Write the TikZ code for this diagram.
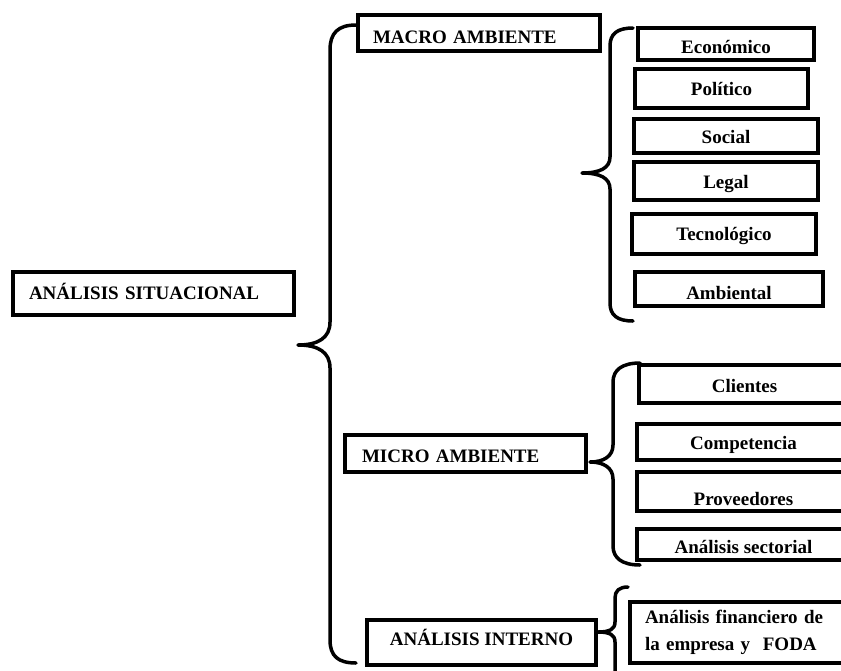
\documentclass[tikz,border=0pt]{standalone}
\usepackage{fontspec}
\setmainfont{Liberation Serif}
\begin{document}
\begin{tikzpicture}[x=1pt,y=-1pt,
  box/.style={draw, line width=4pt, outer sep=0pt, inner ysep=0pt, inner xsep=0pt,
    anchor=north west, font=\bfseries\fontsize{19}{27}\selectfont},
  brace/.style={draw, line width=3.5pt, line cap=round, line join=round}]
\useasboundingbox (0,0) rectangle (841,670);
\fill[white] (0,0) rectangle (841,670);
\clip (0,0) rectangle (841,670);
% level 0 and 1
\node[box, line width=4.5pt, inner xsep=16pt, text width=249pt, align=left, text height=27pt, text depth=16pt] (sit) at (13,272) {ANÁLISIS SITUACIONAL};
\node[box, inner xsep=15pt, text width=212pt, align=left, text height=28pt, text depth=8pt] (macro) at (358,15) {MACRO AMBIENTE};
\node[box, inner xsep=17pt, text width=207pt, align=left, text height=27pt, text depth=10pt] (micro) at (345,435) {MICRO AMBIENTE};
\node[box, minimum width=229pt, text height=25pt, text depth=20pt] (interno) at (367,620) {ANÁLISIS INTERNO};
% macro children
\node[box, minimum width=176pt, text height=25pt, text depth=7pt] (eco) at (638,28) {Económico};
\node[box, minimum width=173pt, text height=26pt, text depth=13pt] (pol) at (635,69) {Político};
\node[box, minimum width=184pt, text height=24pt, text depth=10pt] (soc) at (634,119) {Social};
\node[box, minimum width=184pt, text height=26pt, text depth=12pt] (leg) at (634,162) {Legal};
\node[box, minimum width=184pt, text height=26pt, text depth=14pt] (tec) at (632,214) {Tecnológico};
\node[box, minimum width=188pt, text height=27pt, text depth=7pt] (amb) at (635,272) {Ambiental};
% micro children
\node[box, minimum width=211pt, text height=27pt, text depth=11pt] (cli) at (639,365) {Clientes};
\node[box, minimum width=213pt, text height=25pt, text depth=11pt] (com) at (637,424) {Competencia};
\node[box, minimum width=213pt, text height=33pt, text depth=6pt] (pro) at (637,472) {Proveedores};
\node[box, minimum width=213pt, text height=24pt, text depth=7pt] (sec) at (637,529) {Análisis sectorial};
% interno child
\node[box, inner xsep=15pt, text width=190pt, align=left, minimum height=61pt] (fin) at (630,602) {Análisis financiero de\\la empresa y~ FODA};
% brace end points
\coordinate (Bt) at (356,25); \coordinate (Btip) at (298,345); \coordinate (Bb) at (356,663);
\coordinate (Mt) at (633,28); \coordinate (Mtip) at (582,173); \coordinate (Mb) at (633,321);
\coordinate (Nt) at (640,363); \coordinate (Ntip) at (590,462); \coordinate (Nb) at (640,565);
\coordinate (It) at (628,587); \coordinate (Itip) at (598,632); \coordinate (Ib) at (615,675);
% braces
\draw[brace] (Bt) .. controls (338,25) and (330,33) .. (330,50) -- (330,322)
  .. controls (330,338) and (318,345) .. (Btip)
  .. controls (318,345) and (330,352) .. (330,368) -- (330,640)
  .. controls (330,656) and (338,663) .. (Bb);
\draw[brace] (Mt) .. controls (617,28) and (610,34) .. (610,46) -- (610,157)
  .. controls (610,168) and (600,173) .. (Mtip)
  .. controls (600,173) and (610,178) .. (610,189) -- (610,303)
  .. controls (610,315) and (617,321) .. (Mb);
\draw[brace] (Nt) .. controls (622,363) and (613,370) .. (613,382) -- (613,445)
  .. controls (613,456) and (604,462) .. (Ntip)
  .. controls (604,462) and (613,468) .. (613,479) -- (613,546)
  .. controls (613,558) and (622,565) .. (Nb);
\draw[brace] (It) .. controls (619,587) and (615,591) .. (615,598) -- (615,622)
  .. controls (615,629) and (610,632) .. (Itip)
  .. controls (610,632) and (615,635) .. (615,642) -- (Ib);
\end{tikzpicture}
\end{document}
